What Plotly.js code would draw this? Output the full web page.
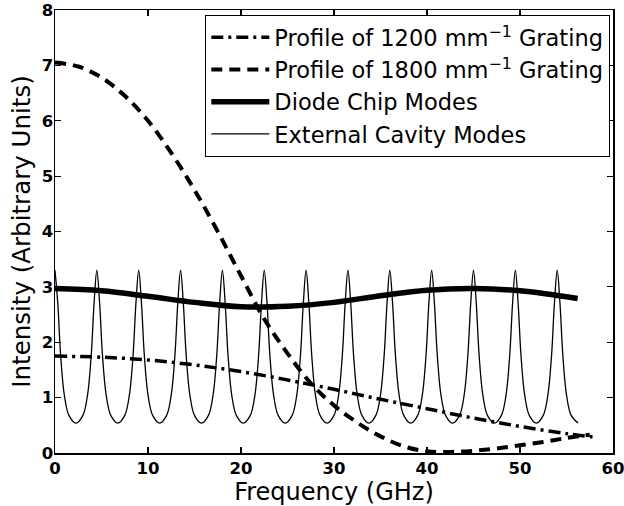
<!DOCTYPE html>
<html>
<head>
<meta charset="utf-8">
<script src="https://cdn.plot.ly/plotly-3.0.1.min.js"></script>
<style>
  html, body { margin: 0; padding: 0; background: #fff; }
  #chart { width: 624px; height: 506px; }
</style>
</head>
<body>
<div id="chart"></div>
<script>
// Grating efficiency profiles (intensity vs. frequency offset, GHz)
const grating1200Freq = [0, 5, 10, 15, 20, 25, 30, 35, 40, 45, 50, 55, 57.8];
const grating1200Int  = [1.75, 1.73, 1.68, 1.59, 1.47, 1.32, 1.15, 0.97, 0.80, 0.63, 0.48, 0.35, 0.29];

const grating1800Freq = [0, 2.5, 5, 7.5, 10, 12.5, 15, 17.5, 20, 22.5, 25, 27.5, 30,
                         32.5, 35, 37.5, 40, 42.5, 45, 47.5, 50, 52.5, 55, 57.5];
const grating1800Int  = [7.05, 6.98, 6.78, 6.45, 6.00, 5.42, 4.75, 4.00, 3.20, 2.42, 1.80, 1.26, 0.86,
                         0.55, 0.30, 0.12, 0.03, 0.02, 0.04, 0.08, 0.14, 0.20, 0.27, 0.33];

// Slowly varying envelope of the diode chip modes
const chipFreq = [0, 5, 10, 15, 20, 25, 30, 35, 40, 45, 50, 56.2];
const chipInt  = [2.97, 2.93, 2.83, 2.72, 2.64, 2.65, 2.72, 2.84, 2.94, 2.97, 2.93, 2.79];

// External cavity mode comb (peaks every ~4.5 GHz)
const cavityFreq = [
  0, 0.3, 0.6, 1.0, 1.5, 2.25, 3.0, 3.5, 3.9, 4.2,
  4.5, 4.8, 5.1, 5.5, 6.0, 6.75, 7.5, 8.0, 8.4, 8.7,
  9.0, 9.3, 9.6, 10.0, 10.5, 11.25, 12.0, 12.5, 12.9, 13.2,
  13.5, 13.8, 14.1, 14.5, 15.0, 15.75, 16.5, 17.0, 17.4, 17.7,
  18.0, 18.3, 18.6, 19.0, 19.5, 20.25, 21.0, 21.5, 21.9, 22.2,
  22.5, 22.8, 23.1, 23.5, 24.0, 24.75, 25.5, 26.0, 26.4, 26.7,
  27.0, 27.3, 27.6, 28.0, 28.5, 29.25, 30.0, 30.5, 30.9, 31.2,
  31.5, 31.8, 32.1, 32.5, 33.0, 33.75, 34.5, 35.0, 35.4, 35.7,
  36.0, 36.3, 36.6, 37.0, 37.5, 38.25, 39.0, 39.5, 39.9, 40.2,
  40.5, 40.8, 41.1, 41.5, 42.0, 42.75, 43.5, 44.0, 44.4, 44.7,
  45.0, 45.3, 45.6, 46.0, 46.5, 47.25, 48.0, 48.5, 48.9, 49.2,
  49.5, 49.8, 50.1, 50.5, 51.0, 51.75, 52.5, 53.0, 53.4, 53.7,
  54.0, 54.3, 54.6, 55.0, 55.5, 56.25
];
const cavityInt = [
  3.30, 2.70, 1.78, 1.05, 0.68, 0.54, 0.68, 1.05, 1.78, 2.70,
  3.30, 2.70, 1.78, 1.05, 0.68, 0.54, 0.68, 1.05, 1.78, 2.70,
  3.30, 2.70, 1.78, 1.05, 0.68, 0.54, 0.68, 1.05, 1.78, 2.70,
  3.30, 2.70, 1.78, 1.05, 0.68, 0.54, 0.68, 1.05, 1.78, 2.70,
  3.30, 2.70, 1.78, 1.05, 0.68, 0.54, 0.68, 1.05, 1.78, 2.70,
  3.30, 2.70, 1.78, 1.05, 0.68, 0.54, 0.68, 1.05, 1.78, 2.70,
  3.30, 2.70, 1.78, 1.05, 0.68, 0.54, 0.68, 1.05, 1.78, 2.70,
  3.30, 2.70, 1.78, 1.05, 0.68, 0.54, 0.68, 1.05, 1.78, 2.70,
  3.30, 2.70, 1.78, 1.05, 0.68, 0.54, 0.68, 1.05, 1.78, 2.70,
  3.30, 2.70, 1.78, 1.05, 0.68, 0.54, 0.68, 1.05, 1.78, 2.70,
  3.30, 2.70, 1.78, 1.05, 0.68, 0.54, 0.68, 1.05, 1.78, 2.70,
  3.30, 2.70, 1.78, 1.05, 0.68, 0.54, 0.68, 1.05, 1.78, 2.70,
  3.30, 2.70, 1.78, 1.05, 0.68, 0.54
];

const xTicks = [0, 10, 20, 30, 40, 50, 60];
const yTicks = [0, 1, 2, 3, 4, 5, 6, 7, 8];

const INK = '#000';
const FONT = 'DejaVu Sans, Liberation Sans, Arial, sans-serif';

const traces = [
  {
    x: grating1200Freq, y: grating1200Int, mode: 'lines', type: 'scatter',
    name: 'Profile of 1200 mm<sup>−1</sup> Grating',
    line: { color: INK, width: 3.5, dash: '12px,5px,3px,5px', shape: 'spline' }
  },
  {
    x: grating1800Freq, y: grating1800Int, mode: 'lines', type: 'scatter',
    name: 'Profile of 1800 mm<sup>−1</sup> Grating',
    line: { color: INK, width: 4, dash: '11px,7px', shape: 'spline' }
  },
  {
    x: chipFreq, y: chipInt, mode: 'lines', type: 'scatter',
    name: 'Diode Chip Modes',
    line: { color: INK, width: 5.5, shape: 'spline' }
  },
  {
    x: cavityFreq, y: cavityInt, mode: 'lines', type: 'scatter',
    name: 'External Cavity Modes',
    line: { color: INK, width: 1.3, shape: 'spline' }
  }
];

const axisCommon = {
  showline: true, linecolor: INK, linewidth: 1.5, mirror: 'allticks',
  ticks: 'inside', ticklen: 6, tickwidth: 1.2, tickcolor: INK,
  showgrid: false, zeroline: false, ticklabeloverflow: 'allow',
  tickfont: { family: FONT, size: 16.5, color: INK, weight: 'bold' }
};

const layout = {
  width: 624, height: 506,
  margin: { l: 55, r: 11, t: 10, b: 53 },
  paper_bgcolor: '#fff', plot_bgcolor: '#fff',
  showlegend: true,
  xaxis: Object.assign({}, axisCommon, {
    range: [0, 60], tickmode: 'array', tickvals: xTicks,
    title: { text: 'Frequency (GHz)', font: { family: FONT, size: 24, color: INK }, standoff: 8 }
  }),
  yaxis: Object.assign({}, axisCommon, {
    range: [0, 8], tickmode: 'array', tickvals: yTicks, ticklabelstandoff: -3,
    title: { text: 'Intensity (Arbitrary Units)', font: { family: FONT, size: 24.5, color: INK }, standoff: 4 }
  }),
  legend: {
    x: 0.269, y: 0.989, xanchor: 'left', yanchor: 'top',
    bgcolor: '#fff', bordercolor: INK, borderwidth: 1.2,
    font: { family: FONT, size: 22.5, color: INK },
    itemwidth: 58, tracegroupgap: 0
  }
};

Plotly.newPlot('chart', traces, layout, { displayModeBar: false, staticPlot: true });
</script>
</body>
</html>
